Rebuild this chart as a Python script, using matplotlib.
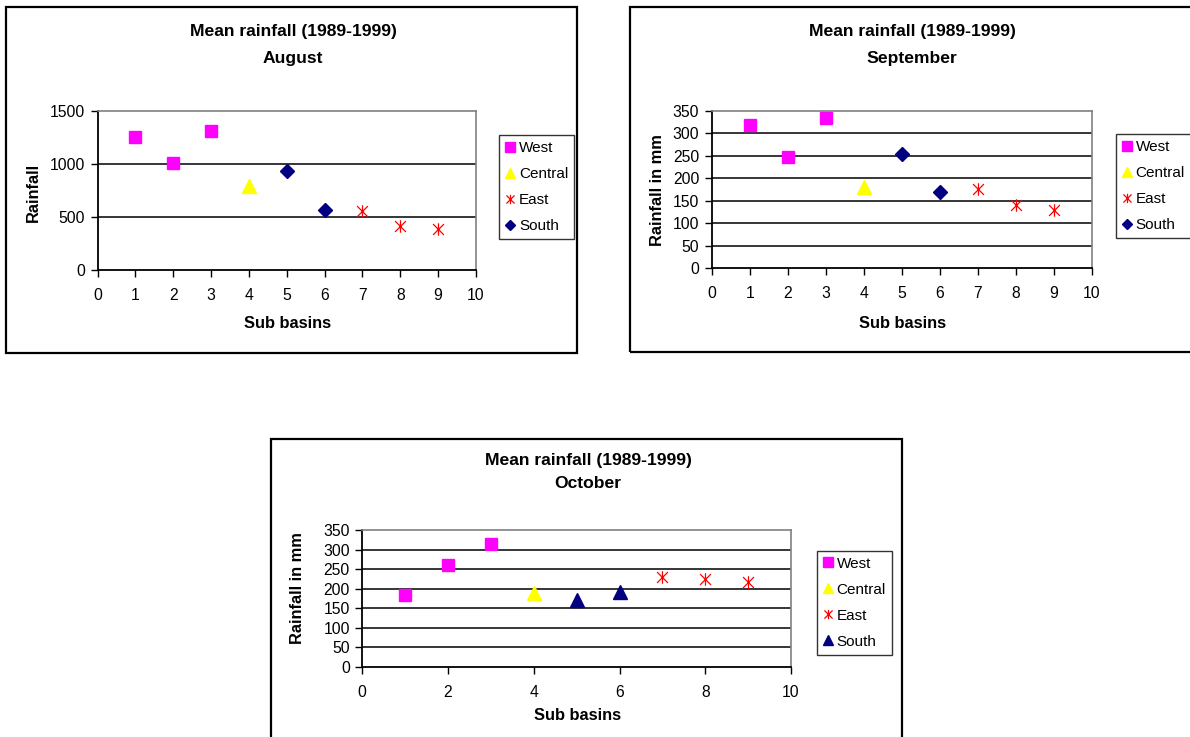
import matplotlib
matplotlib.use("Agg")
import matplotlib.pyplot as plt
from matplotlib.patches import Rectangle
from matplotlib.path import Path

# -----------------------------
# DATA
# -----------------------------
west_x = [1, 2, 3]
central_x = [4]
south_x = [5, 6]
east_x = [7, 8, 9]

aug_west = [1255, 1010, 1305]
aug_central = [790]
aug_south = [935, 565]
aug_east = [555, 415, 390]

sep_west = [318, 247, 333]
sep_central = [180]
sep_south = [253, 168]
sep_east = [175, 141, 130]

oct_west = [183, 261, 314]
oct_central = [189]
oct_south = [171, 192]
oct_east = [230, 226, 217]

# -----------------------------
# STYLE
# -----------------------------
W, H = 1190, 737
plt.rcParams["font.family"] = ["Liberation Sans", "DejaVu Sans"]
TICK_FS = 11.3
LEG_FS = 11
LABEL_FS = 11.8
TITLE_FS = 12.6

PINK = "#FF00FF"
YELLOW = "#FFFF00"
RED = "#FF0000"
NAVY = "#000080"

# Excel style star: an X with a vertical bar through it
STAR = Path([(-1, -1), (1, 1), (-1, 1), (1, -1), (0, -1.15), (0, 1.15)],
            [Path.MOVETO, Path.LINETO, Path.MOVETO, Path.LINETO, Path.MOVETO, Path.LINETO])

fig = plt.figure(figsize=(W / 100, H / 100), dpi=100)


def fx(x):
    return x / W


def fy(y):
    return 1 - y / H


def add_frame(x0, y0, x1, y1):
    fig.patches.append(Rectangle((fx(x0), fy(y1)), fx(x1 - x0), (y1 - y0) / H,
                                 transform=fig.transFigure, fill=False,
                                 edgecolor="black", linewidth=1.6, clip_on=False))


def make_chart(box, values, ymax, ystep, xstep, south_marker, month, ylabel,
               title_xy, title_gap, xlabel_xy, ylabel_xy, legend_xy):
    x0, y0, x1, y1 = box
    ax = fig.add_axes([fx(x0), fy(y1), fx(x1 - x0), (y1 - y0) / H])
    west, central, south, east = values

    ax.plot(west_x, west, "s", color=PINK, ms=9, mec=PINK, label="West", zorder=3)
    ax.plot(central_x, central, "^", color=YELLOW, ms=10, mec=YELLOW, label="Central", zorder=3)
    ax.plot(east_x, east, marker=STAR, ls="none", color=RED, ms=9, mew=0.9, label="East", zorder=3)
    if south_marker == "D":
        ax.plot(south_x, south, "D", color=NAVY, ms=7.2, mec=NAVY, label="South", zorder=3)
    else:
        ax.plot(south_x, south, "^", color=NAVY, ms=10, mec=NAVY, label="South", zorder=3)

    ax.set_xlim(0, 10)
    ax.set_ylim(0, ymax)
    ax.set_xticks(range(0, 11, xstep))
    ax.set_yticks(range(0, ymax + 1, ystep))
    for v in range(ystep, ymax, ystep):
        ax.axhline(v, color="black", lw=1.1, zorder=1)

    for side in ["left", "bottom"]:
        ax.spines[side].set_color("black")
        ax.spines[side].set_linewidth(1.3)
    for side in ["top", "right"]:
        ax.spines[side].set_color("#808080")
        ax.spines[side].set_linewidth(1.2)
    ax.tick_params(axis="both", direction="out", length=5, width=1, labelsize=TICK_FS)
    ax.tick_params(axis="x", pad=8)
    ax.tick_params(axis="y", pad=4)

    tx, ty = title_xy
    fig.text(fx(tx), fy(ty), "Mean rainfall (1989-1999)", ha="center", va="center",
             fontsize=TITLE_FS, fontweight="bold")
    fig.text(fx(tx), fy(ty + title_gap), month, ha="center", va="center",
             fontsize=TITLE_FS, fontweight="bold")
    fig.text(fx(xlabel_xy[0]), fy(xlabel_xy[1]), "Sub basins", ha="center", va="center",
             fontsize=LABEL_FS, fontweight="bold")
    fig.text(fx(ylabel_xy[0]), fy(ylabel_xy[1]), ylabel, ha="center", va="center",
             fontsize=LABEL_FS, fontweight="bold", rotation=90)

    leg = ax.legend(loc="upper left", bbox_to_anchor=(fx(legend_xy[0]), fy(legend_xy[1])),
                    bbox_transform=fig.transFigure, fontsize=LEG_FS, frameon=True,
                    fancybox=False, borderpad=0.4, labelspacing=0.78,
                    handlelength=0.7, handletextpad=0.2, markerscale=0.75,
                    borderaxespad=0)
    leg.get_frame().set_edgecolor("black")
    leg.get_frame().set_linewidth(1.0)
    return ax


# -----------------------------
# FRAMES
# -----------------------------
add_frame(5.7, 7, 576.7, 353)
add_frame(630, 6.7, 1205, 352)
add_frame(270.7, 439, 901.7, 760)

# -----------------------------
# CHARTS
# -----------------------------
make_chart((97.5, 110.7, 476, 270), [aug_west, aug_central, aug_south, aug_east],
           1500, 500, 1, "D", "August", "Rainfall",
           (293, 31.5), 26.5, (288, 323), (33, 192), (499, 135))

make_chart((711.7, 110.7, 1092, 268), [sep_west, sep_central, sep_south, sep_east],
           350, 50, 1, "D", "September", "Rainfall in mm",
           (912, 31.5), 26.5, (903, 323), (657, 190), (1115.7, 134))

make_chart((362.3, 530, 791, 667), [oct_west, oct_central, oct_south, oct_east],
           350, 50, 2, "^", "October", "Rainfall in mm",
           (588, 460.7), 22.5, (578, 715), (298, 588), (816.7, 550.7))

fig.savefig("out.png", dpi=100)
